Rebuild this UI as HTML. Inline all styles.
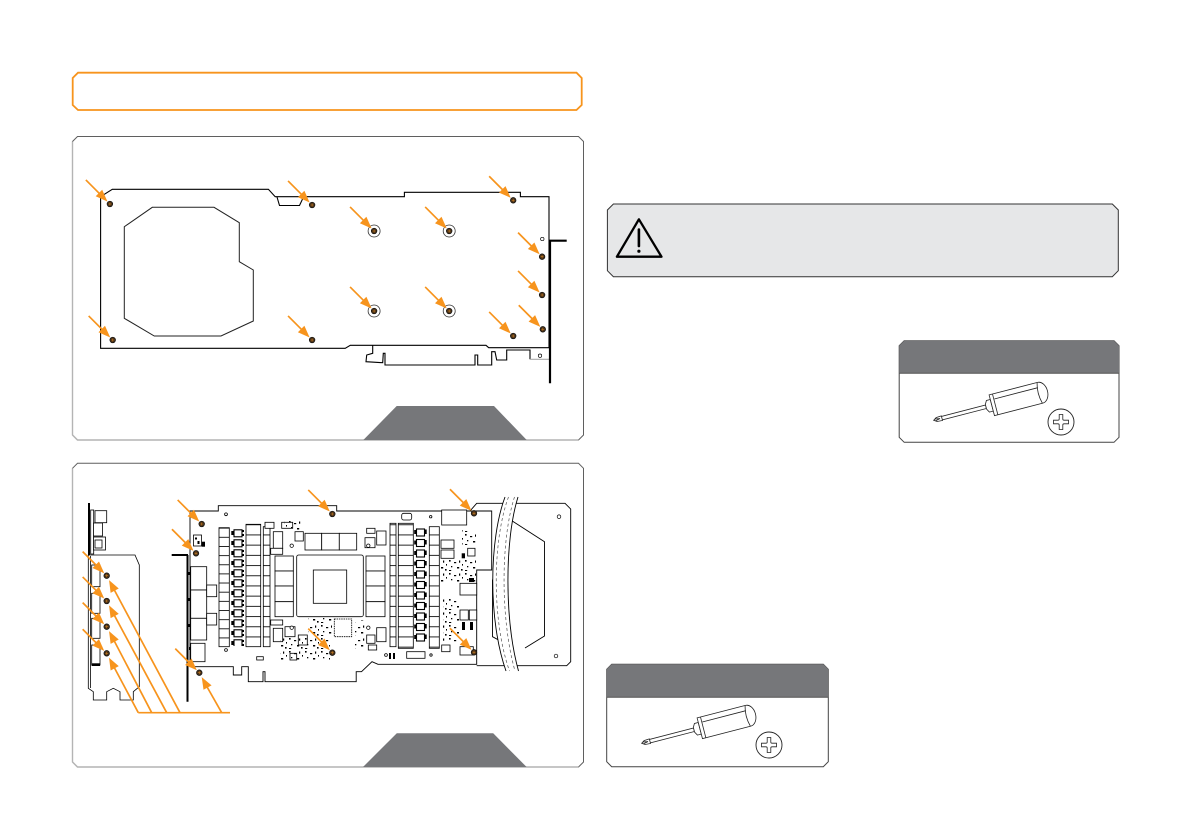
<!DOCTYPE html>
<html>
<head>
<meta charset="utf-8">
<style>
html,body{margin:0;padding:0;background:#fff;}
svg{display:block;}
</style>
</head>
<body>
<svg width="1192" height="840" viewBox="0 0 1192 840" xmlns="http://www.w3.org/2000/svg" xmlns:xlink="http://www.w3.org/1999/xlink">
<defs>
  <g id="a45">
    <line x1="-34" y1="0" x2="-13" y2="0" stroke="#f7941d" stroke-width="1.7"/>
    <polygon points="-3.5,0 -15.5,-4.6 -15.5,4.6" fill="#f7941d"/>
  </g>
  <g id="hu">
    <polygon points="-5,0 -17,-4.6 -17,4.6" fill="#f7941d"/>
  </g>
  <g id="sc">
    <circle r="2.8" fill="#4a3218" stroke="#111" stroke-width="0.7"/>
    <path d="M-1.4,0H1.4M0,-1.4V1.4" stroke="#c77a20" stroke-width="0.6"/>
  </g>
  <g id="rg">
    <circle r="6" fill="#fff" stroke="#333" stroke-width="0.8"/>
  </g>
  <pattern id="c9" x="0" y="527.7" width="50" height="9.15" patternUnits="userSpaceOnUse">
    <rect width="50" height="9.15" fill="#fff"/>
    <line x1="0" y1="0.4" x2="50" y2="0.4" stroke="#000" stroke-width="0.8"/>
  </pattern>
  <pattern id="c10" x="0" y="524.3" width="50" height="10.2" patternUnits="userSpaceOnUse">
    <rect width="50" height="10.2" fill="#fff"/>
    <line x1="0" y1="0.4" x2="50" y2="0.4" stroke="#000" stroke-width="0.8"/>
  </pattern>
  <pattern id="mos" x="231" y="529" width="14" height="10" patternUnits="userSpaceOnUse">
    <rect width="14" height="10" fill="#fff"/>
    <rect x="3" y="0.8" width="8" height="7" fill="#fff" stroke="#000" stroke-width="1.1"/>
    <rect x="0.3" y="2" width="3" height="4" fill="#000"/>
    <rect x="11" y="1" width="2" height="2" fill="#000"/>
    <rect x="11" y="5" width="2" height="2" fill="#000"/>
  </pattern>
  <pattern id="mos2" x="414" y="528" width="13" height="10.5" patternUnits="userSpaceOnUse">
    <rect width="13" height="10.5" fill="#fff"/>
    <rect x="2.5" y="1" width="8" height="7" fill="#fff" stroke="#000" stroke-width="1.1"/>
    <rect x="0.2" y="2" width="2.6" height="4" fill="#000"/>
    <rect x="10.5" y="1.5" width="2.2" height="4.5" fill="#000"/>
  </pattern>
  <pattern id="dots" x="0" y="0" width="16" height="13" patternUnits="userSpaceOnUse">
    <rect x="1" y="1" width="1.6" height="1.6" fill="#000"/>
    <rect x="6" y="3" width="2.2" height="1.2" fill="#000"/>
    <rect x="11" y="1.5" width="1.2" height="2.2" fill="#000"/>
    <rect x="3" y="7" width="1.3" height="1.3" fill="#000"/>
    <rect x="9" y="8" width="2.2" height="1.5" fill="#000"/>
    <rect x="13" y="10" width="1.6" height="1.6" fill="#000"/>
    <rect x="1" y="11" width="2.2" height="1" fill="#000"/>
    <rect x="14" y="5" width="1" height="1.6" fill="#000"/>
  </pattern>
  <g id="sd">
    <g transform="translate(641.7,743.3) rotate(-14.5)" stroke="#222" stroke-width="0.8" fill="#fff">
      <rect x="8" y="-1.8" width="46" height="3.6"/>
      <path d="M0,0 L3,-2 L8.5,-2.4 L8.5,2.4 L3,2 Z"/>
      <path d="M1.5,-1 L6.5,0 L1.5,1" fill="none"/>
      <path d="M54,-2.5 L56,-6 L60,-6 L60,6 L56,6 L54,2.5 Z"/>
      <path d="M60,-10.7 H110 A7.5,10.7 0 0 1 110,10.7 H60 Z"/>
      <path d="M63.5,-10.7 V10.7" fill="none"/>
      <path d="M64,-5.5 H109" fill="none"/>
      <path d="M109.5,-10.6 Q106.5,0 109.5,10.6" fill="none"/>
    </g>
    <circle cx="769" cy="745" r="13" fill="#fff" stroke="#222" stroke-width="0.9"/>
    <path transform="translate(769,745)" d="M-1.8,-7.5 L1.8,-7.5 L1.8,-3 Q1.8,-1.8 3,-1.8 L7.5,-1.8 L7.5,1.8 L3,1.8 Q1.8,1.8 1.8,3 L1.8,7.5 L-1.8,7.5 L-1.8,3 Q-1.8,1.8 -3,1.8 L-7.5,1.8 L-7.5,-1.8 L-3,-1.8 Q-1.8,-1.8 -1.8,-3 Z" fill="#fff" stroke="#222" stroke-width="0.8"/>
  </g>
</defs>

<rect width="1192" height="840" fill="#fff"/>

<!-- Orange title box -->
<path d="M78,72.7 H576.5 L581.7,78 V105 L576.5,110 H78 L72.7,105 V78 Z" fill="#fff" stroke="#f7941d" stroke-width="1.8"/>

<!-- TOP PANEL frame -->
<path d="M77.5,136.5 H578.5 L583.5,141.5 V435 L578.5,440 H77.5 L72.5,435 V141.5 Z" fill="#fff" stroke="#5f5f5f" stroke-width="1"/>
<path d="M72.5,141.5 V435 L77.5,440 H578.5" fill="none" stroke="#b4b4b4" stroke-width="1.4"/>
<polygon points="363.3,440 396.7,406 494,406 526.7,440" fill="#76777a"/>

<!-- top board -->
<g fill="none" stroke="#000" stroke-width="1.1">
  <path d="M100.6,196.7 L112.3,189.3 L268.4,189.3 L275.2,196.7 L404.4,196.7 L404.4,192.3 L520.4,192.3 L520.4,196.7 L549,196.7 L549,347.7 L488.7,347.7 L486,345.3 L350.3,345.3 L345.2,348.3 L100.6,348.3 Z"/>
  <path d="M277,197 L279.5,205.5 L299.5,205.5 L303.5,197"/>
  <polygon points="152.3,207.3 214,207.3 239.3,222.7 239.3,261.7 253.3,270 253.3,321 221,336 154.3,336 124.3,318.3 124.3,226.7" stroke="#222" stroke-width="1"/>
  <path d="M372.7,345.3 V353.3 L366.7,355 L366,361.7 L382.7,362.7 L383.3,353.3 L385,353.3 L385,365 L475,365 L475,355 L477.7,355 L477.7,365 L491.7,365 L491.7,351.7 L495,351.7 L496.7,360 L506.7,360 L506.7,350 L530,350 L530,359.3"/>
  <path d="M530,359.3 H549" stroke="#aaa"/>
  <circle cx="542.3" cy="239" r="1.7" stroke-width="0.7"/>
  <circle cx="540" cy="355.7" r="1.7" stroke-width="0.7"/>
</g>
<path d="M550,240.7 V383.3 M549,240.7 H566.7" stroke="#000" stroke-width="2.2" fill="none"/>

<!-- top screws -->
<use xlink:href="#rg" transform="translate(374.1,231)"/>
<use xlink:href="#rg" transform="translate(449.2,231)"/>
<use xlink:href="#rg" transform="translate(374.1,311)"/>
<use xlink:href="#rg" transform="translate(449.2,311)"/>
<use xlink:href="#sc" transform="translate(109.9,204)"/>
<use xlink:href="#sc" transform="translate(312.1,205)"/>
<use xlink:href="#sc" transform="translate(513.2,200.3)"/>
<use xlink:href="#sc" transform="translate(374.1,231)"/>
<use xlink:href="#sc" transform="translate(449.2,231)"/>
<use xlink:href="#sc" transform="translate(542.1,256.7)"/>
<use xlink:href="#sc" transform="translate(542.1,295)"/>
<use xlink:href="#sc" transform="translate(542.8,329.3)"/>
<use xlink:href="#sc" transform="translate(513.2,336)"/>
<use xlink:href="#sc" transform="translate(374.1,311)"/>
<use xlink:href="#sc" transform="translate(449.2,311)"/>
<use xlink:href="#sc" transform="translate(112.7,340)"/>
<use xlink:href="#sc" transform="translate(312.1,340)"/>
<!-- top arrows -->
<use xlink:href="#a45" transform="translate(109.9,204) rotate(45)"/>
<use xlink:href="#a45" transform="translate(312.1,205) rotate(45)"/>
<use xlink:href="#a45" transform="translate(513.2,200.3) rotate(45)"/>
<use xlink:href="#a45" transform="translate(374.1,231) rotate(45)"/>
<use xlink:href="#a45" transform="translate(449.2,231) rotate(45)"/>
<use xlink:href="#a45" transform="translate(542.1,256.7) rotate(45)"/>
<use xlink:href="#a45" transform="translate(542.1,295) rotate(45)"/>
<use xlink:href="#a45" transform="translate(542.8,329.3) rotate(45)"/>
<use xlink:href="#a45" transform="translate(513.2,336) rotate(45)"/>
<use xlink:href="#a45" transform="translate(374.1,311) rotate(45)"/>
<use xlink:href="#a45" transform="translate(449.2,311) rotate(45)"/>
<use xlink:href="#a45" transform="translate(112.7,340) rotate(45)"/>
<use xlink:href="#a45" transform="translate(312.1,340) rotate(45)"/>

<!-- BOTTOM PANEL frame -->
<path d="M77.5,463.3 H578.5 L583.5,468.3 V762 L578.5,767 H77.5 L72.5,762 V468.3 Z" fill="#fff" stroke="#5f5f5f" stroke-width="1"/>
<path d="M72.5,468.3 V762 L77.5,767 H578.5" fill="none" stroke="#b4b4b4" stroke-width="1.4"/>
<polygon points="363,767 396.8,733.3 493.2,733.3 526.6,767" fill="#76777a"/>

<!-- left IO bracket side view -->
<path d="M89,503 V555" stroke="#000" stroke-width="2" fill="none"/>
<g fill="#fff" stroke="#000" stroke-width="0.8">
  <rect x="90.7" y="510" width="3" height="44"/>
  <rect x="95" y="510.7" width="11.7" height="12"/>
  <rect x="93.5" y="523" width="9" height="13"/>
  <rect x="93.5" y="537" width="12" height="13"/>
  <rect x="95" y="540" width="7" height="8"/>
  <path d="M88.3,555 L135,555 L139.3,565 L139.3,686.7 L133.3,691.7 L133.3,700 L120,700 L120,691.7 L113.3,688.3 L106.7,691.7 L106.7,700 L93.3,700 L93.3,691.7 L88.3,688.3 Z"/>
  <path d="M90.5,556 V688" fill="none"/>
  <rect x="91.7" y="565" width="8.3" height="21.7"/>
  <rect x="91.7" y="593.3" width="8.3" height="20"/>
  <rect x="91.7" y="618.3" width="8.3" height="20"/>
  <rect x="91.7" y="645" width="8.3" height="20"/>
</g>
<rect x="91.7" y="663.3" width="8.3" height="2.7" fill="#000"/>

<!-- main PCB -->
<path d="M187.5,555 V701.7 M171.7,555 H188" stroke="#000" stroke-width="2" fill="none"/>
<!-- shroud -->
<path d="M470,511 L476.7,503.3 H565 L570.7,509 V661.7 L566.7,665.7 H476.7" fill="#fff" stroke="#000" stroke-width="0.9"/>
<path d="M504,576.7 L492.5,580 V636.7 L511,646.7" fill="none" stroke="#000" stroke-width="0.9"/>
<path d="M511.5,520.5 L544.5,541.7 V636 L525,648" fill="none" stroke="#000" stroke-width="0.9"/>
<circle cx="559" cy="516.7" r="1.8" fill="#fff" stroke="#000" stroke-width="0.7"/>
<circle cx="556" cy="656" r="1.8" fill="#fff" stroke="#000" stroke-width="0.7"/>

<path d="M190,511 H218.3 V505.7 H336.7 V511 H491.7 V570 H476.7 V664.3 H378 L372,661.7 L361.5,671.7 H356.2 V681.7 H265 V671.7 H263 V681.7 H248.3 V666.7 H241.7 V675 H233.3 V666.7 H190 Z" fill="#fff" stroke="#000" stroke-width="0.9"/>

<g fill="#fff" stroke="#000" stroke-width="0.8">
  <!-- left ports -->
  <rect x="190.7" y="566.7" width="16" height="23.3"/>
  <rect x="190.7" y="590" width="16" height="28.3"/>
  <rect x="190.7" y="618.3" width="16" height="21.7"/>
  <rect x="206.7" y="585" width="10" height="11.7"/>
  <rect x="206.7" y="613.3" width="10" height="11.7"/>
  <rect x="190.7" y="643.3" width="14.3" height="18.4"/>
  <rect x="193.5" y="535" width="8" height="11"/>
  <!-- columns -->
  <rect x="219" y="527.7" width="10.3" height="119" fill="url(#c9)"/>
  <rect x="231" y="529" width="13.5" height="117" fill="url(#mos)" stroke="none"/>
  <rect x="246" y="524.3" width="14.7" height="122.4" fill="url(#c10)"/>
  <rect x="263.3" y="526.7" width="6.7" height="120" fill="url(#c10)"/>
  <!-- memory -->
  <rect x="275" y="556" width="18.3" height="15"/>
  <rect x="275" y="571" width="18.3" height="15"/>
  <rect x="275" y="586" width="18.3" height="15.7"/>
  <rect x="275" y="601.7" width="18.3" height="15"/>
  <rect x="366" y="556" width="19" height="15"/>
  <rect x="366" y="571" width="19" height="15"/>
  <rect x="366" y="586" width="19" height="15.7"/>
  <rect x="366" y="601.7" width="19" height="15"/>
  <rect x="305" y="533.3" width="16.7" height="16.7"/>
  <rect x="321.7" y="533.3" width="17.6" height="16.7"/>
  <rect x="339.3" y="533.3" width="17.4" height="16.7"/>
  <!-- GPU -->
  <rect x="296.7" y="555" width="66.6" height="61.7" rx="2"/>
  <rect x="313.3" y="570" width="33.4" height="33.3"/>
  <!-- misc near GPU -->
  <rect x="265" y="522.3" width="9" height="6"/>
  <rect x="281.7" y="522.3" width="11" height="6"/>
  <rect x="273.3" y="531.7" width="9.4" height="16.6"/>
  <rect x="295" y="531.7" width="8.3" height="9.3"/>
  <rect x="270.7" y="548.3" width="12" height="6"/>
  <rect x="366.7" y="528.3" width="8.3" height="5"/>
  <rect x="376.7" y="531" width="9.3" height="14"/>
  <rect x="365" y="537.7" width="10" height="10"/>
  <rect x="270.7" y="620" width="12" height="5"/>
  <rect x="273.3" y="628.3" width="9.4" height="13.4"/>
  <rect x="285" y="626.7" width="10" height="10"/>
  <rect x="298.3" y="635" width="9" height="10"/>
  <rect x="290" y="653.3" width="6.7" height="6.7"/>
  <rect x="334.3" y="619" width="17.4" height="17.7" stroke-dasharray="1.5,0.8"/>
  <rect x="376.7" y="627.7" width="9.3" height="14"/>
  <rect x="366.7" y="635" width="8.3" height="8.3"/>
  <rect x="368.3" y="645" width="8.4" height="5"/>
  <rect x="256.7" y="656.7" width="6.6" height="3.3"/>
  <!-- right side -->
  <rect x="390" y="523.3" width="6" height="123.4" fill="url(#c10)"/>
  <rect x="398.3" y="523.3" width="15" height="125" fill="url(#c10)"/>
  <rect x="414" y="528" width="13" height="114" fill="url(#mos2)" stroke="none"/>
  <rect x="429.3" y="526.7" width="10" height="121.6" fill="url(#c10)"/>
  <rect x="441.7" y="510" width="25" height="15"/>
  <rect x="441" y="540" width="13" height="8.3"/>
  <rect x="441" y="550" width="13" height="8.3"/>
  <rect x="467.7" y="548.3" width="7.3" height="7.7"/>
  <rect x="460" y="583.3" width="16.7" height="11.7"/>
  <rect x="401.7" y="513.3" width="10" height="6.7" rx="2"/>
  <rect x="460" y="610" width="8.3" height="10"/>
  <rect x="469.3" y="610" width="7.4" height="10"/>
  <rect x="460" y="646.7" width="13.3" height="8.3"/>
  <rect x="441.7" y="645" width="8.3" height="6.7"/>
  <rect x="406.7" y="651.7" width="18.3" height="6.6"/>
  <circle cx="226" cy="514.3" r="1.4"/>
  <circle cx="291.7" cy="545.7" r="1.7"/>
  <circle cx="368.3" cy="545.7" r="1.7"/>
  <circle cx="291.7" cy="627.7" r="1.7"/>
  <circle cx="368.3" cy="627.7" r="1.7"/>
  <circle cx="226" cy="650" r="1.4"/>
  <circle cx="386" cy="655" r="1.4"/>
  <circle cx="430.7" cy="516.7" r="1.2"/>
  <circle cx="431" cy="655" r="1.2"/>
</g>
<!-- dense dot areas -->
<rect x="441" y="560" width="35" height="22" fill="url(#dots)"/>
<rect x="443" y="597" width="16" height="45" fill="url(#dots)"/>
<rect x="280" y="638" width="50" height="22" fill="url(#dots)"/>
<rect x="308" y="618" width="24" height="18" fill="url(#dots)"/>
<rect x="355" y="620" width="10" height="30" fill="url(#dots)"/>
<rect x="284" y="520" width="18" height="10" fill="url(#dots)"/>
<rect x="462" y="530" width="14" height="16" fill="url(#dots)"/>
<g fill="#000">
  <rect x="201.7" y="541.7" width="3.3" height="5"/>
  <rect x="195" y="537.5" width="2" height="2"/>
  <rect x="197.5" y="541" width="2" height="3"/>
  <rect x="461.7" y="553.3" width="3.3" height="5"/>
  <rect x="469" y="578" width="5" height="4"/>
  <rect x="462" y="622" width="3" height="8"/>
  <rect x="470" y="622" width="3" height="8"/>
  <rect x="389" y="653" width="2" height="6"/>
  <rect x="393" y="653" width="2" height="6"/>
  <rect x="188" y="572" width="2" height="3"/>
  <rect x="188" y="598" width="2" height="3"/>
  <rect x="188" y="624" width="2" height="3"/>
  <rect x="189" y="647" width="2" height="3"/>
</g>

<!-- wave break -->
<path d="M505,497 C489,540 488,620 506,671 L518.5,671 C504.5,620 504.5,540 518,497 Z" fill="#fff"/>
<path d="M505,497 C489,540 488,620 506,671 M518,497 C504.5,540 504.5,620 518.5,671" fill="none" stroke="#000" stroke-width="0.9"/>
<path d="M508.5,497 C492.5,540 491.5,620 509.5,671 M514.5,497 C500.5,540 500.5,620 515,671" fill="none" stroke="#555" stroke-width="0.7" stroke-dasharray="3,2.5"/>

<!-- bottom screws -->
<use xlink:href="#sc" transform="translate(106.7,575.7)"/>
<use xlink:href="#sc" transform="translate(106.7,601)"/>
<use xlink:href="#sc" transform="translate(106.7,626.7)"/>
<use xlink:href="#sc" transform="translate(106.7,653.3)"/>
<use xlink:href="#sc" transform="translate(201.7,524)"/>
<use xlink:href="#sc" transform="translate(196,553.3)"/>
<use xlink:href="#sc" transform="translate(199.3,672.7)"/>
<use xlink:href="#sc" transform="translate(332.3,514)"/>
<use xlink:href="#sc" transform="translate(474,513.3)"/>
<use xlink:href="#sc" transform="translate(332.3,652.7)"/>
<use xlink:href="#sc" transform="translate(474,652.3)"/>

<!-- bottom arrows 45 -->
<use xlink:href="#a45" transform="translate(106.7,575.7) rotate(45)"/>
<use xlink:href="#a45" transform="translate(106.7,601) rotate(45)"/>
<use xlink:href="#a45" transform="translate(106.7,626.7) rotate(45)"/>
<use xlink:href="#a45" transform="translate(106.7,653.3) rotate(45)"/>
<use xlink:href="#a45" transform="translate(201.7,524) rotate(45)"/>
<use xlink:href="#a45" transform="translate(196,553.3) rotate(45)"/>
<use xlink:href="#a45" transform="translate(199.3,672.7) rotate(45)"/>
<use xlink:href="#a45" transform="translate(332.3,514) rotate(45)"/>
<use xlink:href="#a45" transform="translate(474,513.3) rotate(45)"/>
<use xlink:href="#a45" transform="translate(332.3,652.7) rotate(45)"/>
<use xlink:href="#a45" transform="translate(474,652.3) rotate(45)"/>

<!-- up arrows from base line -->
<g stroke="#f7941d" stroke-width="1.7" fill="none">
  <path d="M138.3,712.7 H230"/>
  <path d="M180,712.7 L111.4,584.5"/>
  <path d="M166.7,712.7 L111.4,609.8"/>
  <path d="M151.7,712.7 L111.4,635.5"/>
  <path d="M138.3,712.7 L111.4,662.1"/>
  <path d="M221.7,712.7 L204,681.5"/>
</g>
<use xlink:href="#hu" transform="translate(106.7,575.7) rotate(-118)"/>
<use xlink:href="#hu" transform="translate(106.7,601) rotate(-118)"/>
<use xlink:href="#hu" transform="translate(106.7,626.7) rotate(-118)"/>
<use xlink:href="#hu" transform="translate(106.7,653.3) rotate(-118)"/>
<use xlink:href="#hu" transform="translate(199.3,672.7) rotate(-119)"/>

<!-- Warning box -->
<path d="M613.4,204 H1112.3 L1118.3,210 V270.7 L1112.3,276.7 H613.4 L607.4,270.7 V210 Z" fill="#e6e7e8" stroke="#333" stroke-width="1"/>
<path d="M638.9,219.3 L616.9,256.7 L661.5,256.7 Z" fill="none" stroke="#000" stroke-width="2.3" stroke-linejoin="round"/>
<path d="M638.9,229.5 V246" stroke="#000" stroke-width="2.6" stroke-linecap="round"/>
<circle cx="638.9" cy="251.2" r="1.6" fill="#000"/>

<!-- Right tool box -->
<path d="M904.2,340.7 H1114 L1119,345.7 V437.3 L1114,442.3 H904.2 L899.2,437.3 V345.7 Z" fill="#fff" stroke="#444" stroke-width="1"/>
<path d="M904.2,340.7 H1114 L1119,345.7 V373.3 H899.2 V345.7 Z" fill="#76777a"/>
<path d="M899.2,373.3 H1119" stroke="#555" stroke-width="1"/>

<!-- Bottom-left tool box -->
<path d="M611.7,664.3 H823.3 L828.3,669.3 V761.7 L823.3,766.7 H611.7 L606.7,761.7 V669.3 Z" fill="#fff" stroke="#444" stroke-width="1"/>
<path d="M611.7,664.3 H823.3 L828.3,669.3 V697.3 H606.7 V669.3 Z" fill="#76777a"/>
<path d="M606.7,697.3 H828.3" stroke="#555" stroke-width="1"/>

<use xlink:href="#sd"/>
<use xlink:href="#sd" transform="translate(292,-323)"/>
</svg>
</body>
</html>
